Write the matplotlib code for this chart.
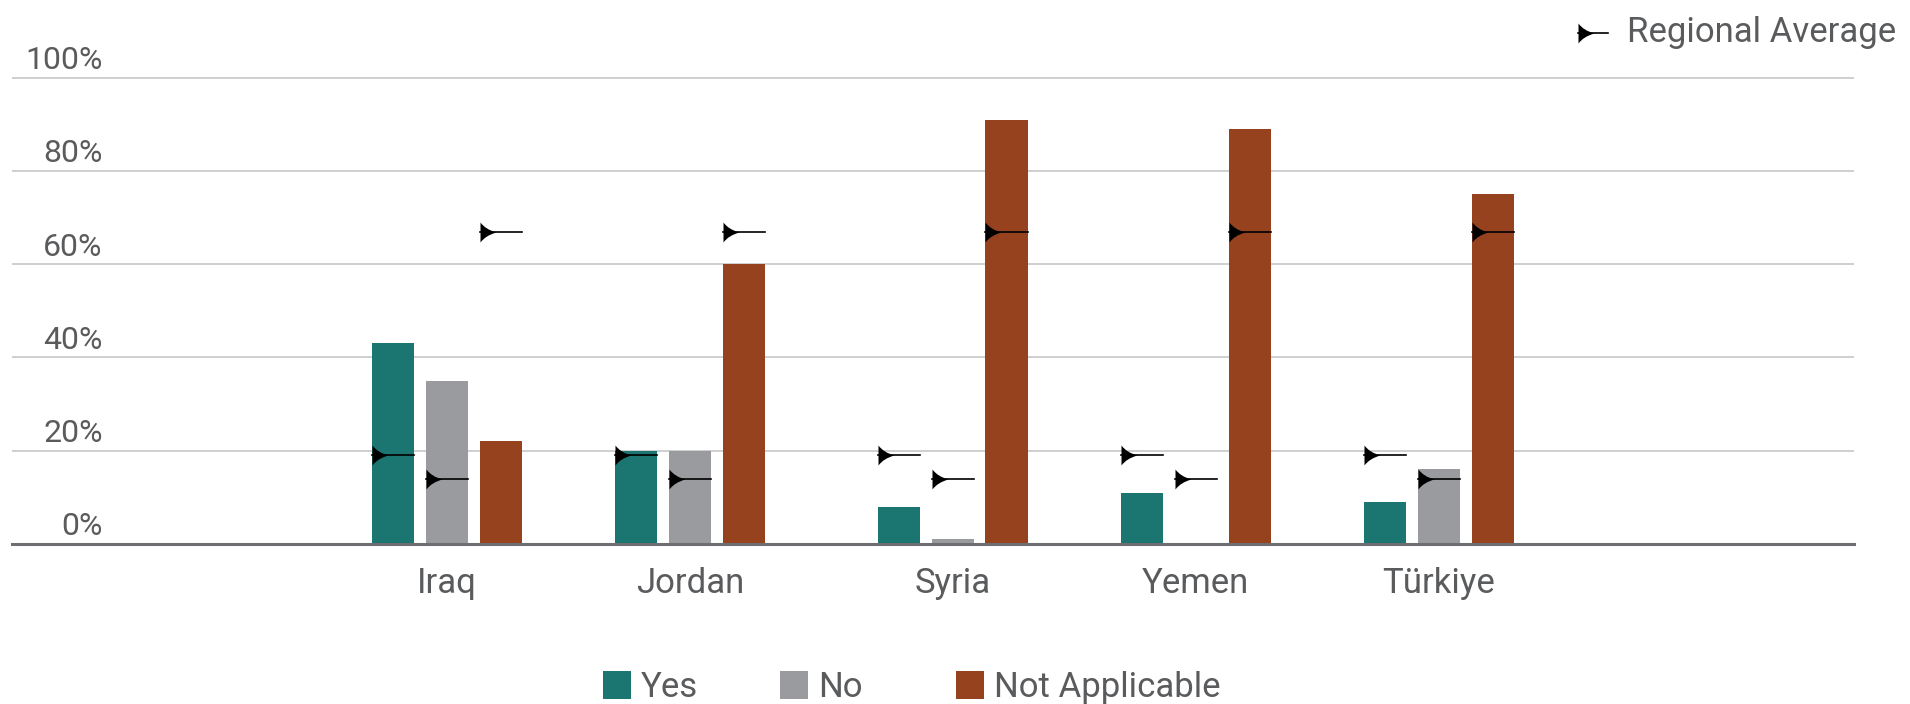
import matplotlib
matplotlib.use("Agg")
import numpy as np
import matplotlib.pyplot as plt
import matplotlib.transforms as mtransforms
from matplotlib.path import Path
from matplotlib.patches import Rectangle
from matplotlib.lines import Line2D

plt.rcParams['font.family'] = ['Roboto', 'DejaVu Sans']

countries = ["Iraq", "Jordan", "Syria", "Yemen", "Türkiye"]
series_names = ["Yes", "No", "Not Applicable"]
yes = [43, 20, 8, 11, 9]
no = [35, 20, 1, 0, 16]
not_applicable = [22, 60, 91, 89, 75]
regional_avg = [19, 14, 67]   # Yes, No, Not Applicable
y_ticks = [0, 20, 40, 60, 80, 100]

colors = ["#1b7571", "#9a9b9f", "#97421f"]
text_color = "#5a5b5d"
grid_color = "#cccccc"
base_color = "#6d6e71"

# layout
W, H = 1910, 704
group_x = [0, 1, 2.08, 3.08, 4.08]   # small extra gap before Syria
bar_w = 0.173
bar_step = 0.2214

# flared arrow-tail marker used for the regional average
verts = [(0, 1), (0.5, 0.3), (1.6, 0), (0.5, -0.3), (0, -1), (0, 1), (0, 1)]
codes = [Path.MOVETO, Path.CURVE3, Path.CURVE3, Path.CURVE3, Path.CURVE3,
         Path.LINETO, Path.CLOSEPOLY]
avg_marker = Path(verts, codes)
avg_ms = 23

fig = plt.figure(figsize=(W / 100, H / 100), dpi=100)
ax = fig.add_axes([12 / W, (H - 543.8) / H, 1842 / W, 512.6 / H])
ax.set_xlim(-1.79, 5.788)
ax.set_ylim(0, 110)

for t in y_ticks[1:]:
    ax.axhline(t, color=grid_color, lw=1.3, zorder=0)

gx = np.array(group_x)
for i, vals in enumerate([yes, no, not_applicable]):
    x = gx + (i - 1) * bar_step
    ax.bar(x, vals, width=bar_w, color=colors[i], zorder=2)
    for xc in x:
        left = xc - bar_w / 2
        ax.plot([left, left + bar_w], [regional_avg[i]] * 2, color="black", lw=1.2,
                marker=avg_marker, markevery=[0], ms=avg_ms, mew=0, zorder=4)

for side in ["top", "left", "right"]:
    ax.spines[side].set_visible(False)
ax.spines["bottom"].set_color(base_color)
ax.spines["bottom"].set_linewidth(2.2)
ax.spines["bottom"].set_zorder(5)
ax.set_xticks([])
ax.set_yticks([])

# y labels sit just above their gridline, inside the plot
ytr = mtransforms.offset_copy(
    mtransforms.blended_transform_factory(ax.transAxes, ax.transData),
    fig=fig, y=8.5, units="dots")
for t in y_ticks:
    ax.text((102.7 - 12) / 1842, t, f"{t}%", transform=ytr, ha="right",
            va="baseline", fontsize=23, color=text_color)

xtr = mtransforms.blended_transform_factory(ax.transData, fig.transFigure)
for xc, name in zip(gx, countries):
    ax.text(xc, 1 - 593 / H, name, transform=xtr, ha="center", va="baseline",
            fontsize=25, color=text_color)

# regional average key, top right
ky = 1 - 32.6 / H
fig.add_artist(Line2D([1578 / W, 1608 / W], [ky, ky], transform=fig.transFigure,
                      color="black", lw=1.2, marker=avg_marker, markevery=[0],
                      ms=avg_ms, mew=0))
fig.text(1626.5 / W, 1 - 42 / H, "Regional Average", ha="left", va="baseline",
         fontsize=25, color=text_color)

# series key, bottom
patch_x = [603, 780, 956]
for px, name, c in zip(patch_x, series_names, colors):
    fig.add_artist(Rectangle((px / W, 1 - 699 / H), 28 / W, 28 / H,
                             transform=fig.transFigure, color=c, lw=0))
    fig.text((px + 38) / W, 1 - 697 / H, name, ha="left", va="baseline",
             fontsize=25, color=text_color)

fig.savefig("out.png", dpi=100, facecolor="white")
